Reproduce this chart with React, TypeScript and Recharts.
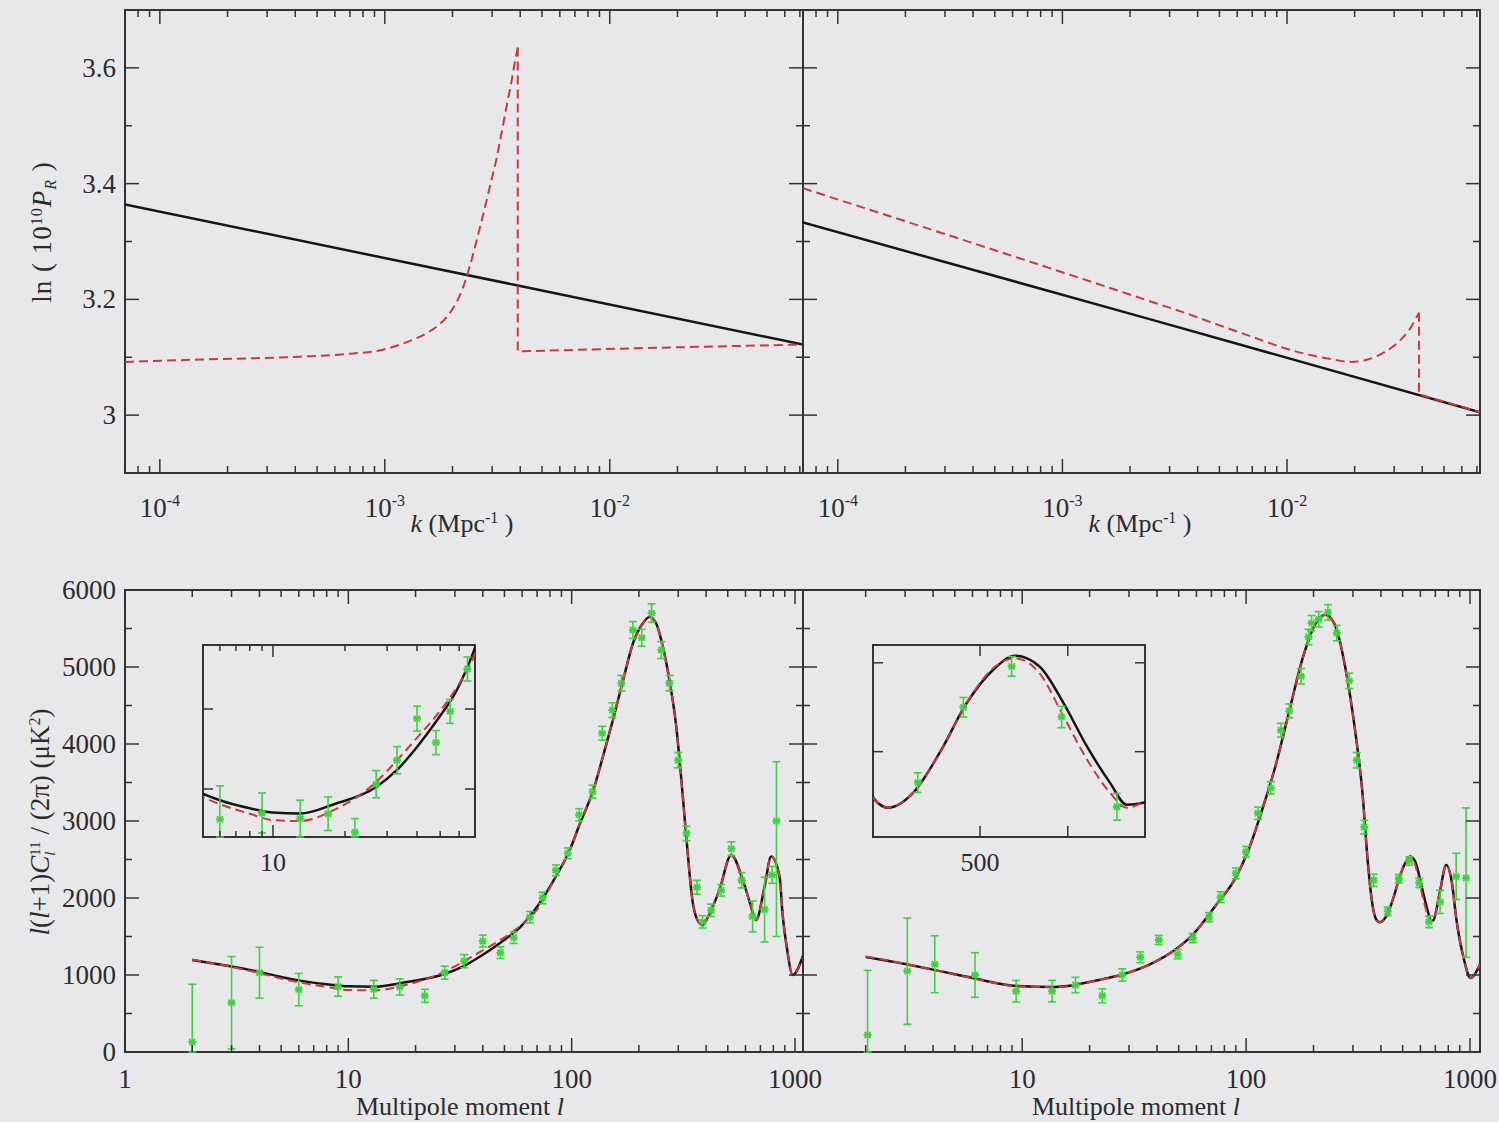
import React from 'react'
import { ComposedChart, Line, Scatter, XAxis, YAxis, ErrorBar } from 'recharts'

const BG = '#e8e8eb'
const INK = '#333333'
const TXT = '#2c2c2c'
const BLACK = '#161616'
const RED = '#c83a3c'
const GREEN = '#3fd23f'
const SERIF = '"Liberation Serif", "DejaVu Serif", serif'

// top row: ln(10^10 P_R) against k
const kDomain: [number, number] = [7e-5, 0.0723]
const lnPDomain: [number, number] = [2.9, 3.7]
const lnPTicks = [3, 3.1, 3.2, 3.3, 3.4, 3.5, 3.6]
const lnPMajors = [3, 3.2, 3.4, 3.6]

const tlBlackK = [7e-5, 3.9e-3, 0.0723]
const tlBlackV = [3.364, 3.224, 3.122]
// red model, left: smooth rise up to the spike, then the step down
const tlRedRiseK = [7e-5, 1.51e-4, 4.19e-4, 6.98e-4, 9.8e-4, 1.17e-3, 1.33e-3, 1.54e-3, 1.7e-3, 1.89e-3, 2.09e-3, 2.22e-3, 2.39e-3, 2.64e-3, 2.93e-3, 3.15e-3, 3.34e-3, 3.52e-3, 3.66e-3, 3.79e-3, 3.9e-3]
const tlRedRiseV = [3.092, 3.096, 3.101, 3.106, 3.113, 3.122, 3.13, 3.142, 3.153, 3.17, 3.196, 3.219, 3.258, 3.322, 3.394, 3.446, 3.497, 3.544, 3.577, 3.611, 3.635]
const tlRedStepK = [3.9e-3, 3.9e-3, 0.0146, 0.0723]
const tlRedStepV = [3.635, 3.11, 3.116, 3.122]

const trBlackK = [7e-5, 2.49e-3, 0.0723]
const trBlackV = [3.333, 3.165, 3.005]
const trRedRiseK = [7e-5, 2.49e-3, 3.49e-3, 4.94e-3, 6.92e-3, 9.7e-3, 0.01371, 0.01616, 0.01922, 0.02285, 0.02692, 0.03107, 0.03548, 0.0387]
const trRedRiseV = [3.392, 3.196, 3.177, 3.156, 3.136, 3.116, 3.101, 3.096, 3.092, 3.096, 3.108, 3.125, 3.151, 3.177]
const trRedStepK = [0.0387, 0.0387, 0.0723]
const trRedStepV = [3.177, 3.036, 3.005]

// bottom row: l(l+1)C_l/2pi against multipole l
const clDomain: [number, number] = [0, 6000]
const clTicks = [0, 500, 1000, 1500, 2000, 2500, 3000, 3500, 4000, 4500, 5000, 5500, 6000]
const clMajors = [0, 1000, 2000, 3000, 4000, 5000, 6000]

const blTheoryL = [2, 3, 4, 5, 6, 8, 10, 13, 18, 27, 33, 40, 48, 59, 69, 85, 98, 109, 125, 138, 153, 170, 188, 208, 223, 239, 256, 274, 294, 309, 326, 349, 374, 387, 401, 459, 518, 584, 625, 670, 731, 782, 853, 879, 920, 977, 1086]
const blBlackV = [1195, 1110, 1040, 975, 930, 880, 853, 847, 905, 1013, 1119, 1263, 1420, 1625, 1860, 2280, 2620, 2970, 3400, 3835, 4310, 4830, 5305, 5565, 5650, 5565, 5265, 4830, 4225, 3575, 2795, 1930, 1670, 1650, 1715, 2105, 2560, 2235, 1960, 1714, 2150, 2540, 2280, 1805, 1350, 1000, 1250]
const blRedV = [1200, 1105, 1025, 955, 905, 845, 805, 800, 869, 1044, 1180, 1320, 1455, 1640, 1825, 2280, 2620, 2970, 3400, 3835, 4310, 4830, 5305, 5565, 5650, 5565, 5265, 4830, 4225, 3575, 2795, 1930, 1670, 1650, 1715, 2105, 2560, 2235, 1960, 1714, 2150, 2540, 2280, 1805, 1350, 1000, 1250]

const blDataL = [2, 3, 4, 6, 9, 13, 17, 22, 27, 33, 40, 48, 55, 65, 74, 85, 96, 108, 124, 137, 152, 167, 188, 206, 228, 252, 274, 300, 327, 364, 386, 421, 467, 519, 577, 646, 731, 790, 826]
const blDataV = [130, 640, 1030, 810, 850, 815, 845, 730, 1030, 1180, 1440, 1290, 1485, 1750, 2000, 2360, 2580, 3080, 3380, 4140, 4440, 4790, 5480, 5380, 5700, 5220, 4790, 3790, 2840, 2140, 1690, 1840, 2100, 2640, 2230, 1760, 1850, 2300, 3000]
const blDataErr: (number | number[])[] = [[130, 750], 600, 330, 210, 125, 115, 105, 85, 85, 85, 78, 75, 75, 75, 75, 70, 70, 80, 85, 90, 95, 100, 110, 110, 120, 110, 100, 100, 95, 90, 80, 80, 75, 90, 100, 200, 420, 110, [1500, 770]]

const brTheoryL = [2, 3, 4, 6, 9.5, 14, 22, 27.5, 37, 49, 58, 73, 90, 103, 118, 135, 155, 178, 204, 226, 250, 277, 307, 330, 350, 365, 380, 395, 424, 454, 485, 515, 540, 568, 595, 622, 648, 667, 686, 734, 783, 830, 870, 940, 1005, 1050, 1108]
const brBlackV = [1234, 1143, 1070, 961, 857, 844, 935, 1000, 1134, 1343, 1528, 1898, 2269, 2639, 3148, 3704, 4399, 5093, 5560, 5680, 5540, 5000, 4167, 3400, 2450, 1950, 1730, 1685, 1770, 1994, 2275, 2461, 2539, 2478, 2275, 2028, 1826, 1702, 1713, 2084, 2430, 2200, 1714, 1200, 960, 1010, 1140]
const brRedV = [1240, 1145, 1068, 958, 855, 842, 933, 1000, 1134, 1343, 1528, 1898, 2269, 2639, 3148, 3704, 4399, 5093, 5560, 5680, 5540, 5000, 4167, 3400, 2450, 1950, 1730, 1685, 1770, 1994, 2275, 2470, 2525, 2440, 2200, 1955, 1770, 1685, 1719, 2084, 2430, 2200, 1714, 1200, 960, 1010, 1140]

const brDataL = [2.04, 3.07, 4.07, 6.16, 9.4, 13.6, 17.3, 22.8, 28, 33.7, 40.7, 49.5, 57.8, 68.3, 77, 90, 100, 113, 129, 143, 156, 176, 190, 196, 211, 232, 254, 289, 312, 337, 371, 429, 481, 536, 593, 656, 735, 867, 960]
const brDataV = [220, 1050, 1140, 1000, 790, 790, 870, 730, 1000, 1230, 1455, 1270, 1480, 1750, 2010, 2320, 2600, 3100, 3430, 4180, 4430, 4880, 5390, 5570, 5620, 5710, 5440, 4820, 3790, 2920, 2230, 1826, 2250, 2480, 2195, 1690, 1950, 2280, 2260]
const brDataErr: (number | number[])[] = [[220, 840], 690, 370, 290, 140, 140, 100, 90, 80, 70, 60, 60, 60, 60, 70, 70, 70, 80, 80, 90, 90, 100, 100, 100, 100, 100, 100, 100, 100, 90, 80, 55, 55, 55, 60, 75, 150, 300, [1030, 910]]

type Pt = { x: number; y: number; e?: number | number[] }
const zip = (xs: number[], ys: number[], es?: (number | number[])[]): Pt[] =>
  xs.map((x, i) => (es ? { x, y: ys[i], e: es[i] } : { x, y: ys[i] }))

// keep the points an inset can show, with bars cut at its frame
const insetPoints = (pts: Pt[], xd: [number, number], yd: [number, number]): Pt[] =>
  pts
    .filter(p => p.x >= xd[0] && p.x <= xd[1] && p.y >= yd[0] && p.y <= yd[1])
    .map(p => {
      const [lo, hi] = Array.isArray(p.e) ? p.e : [p.e ?? 0, p.e ?? 0]
      return { ...p, e: [Math.min(lo, p.y - yd[0]), Math.min(hi, yd[1] - p.y)] }
    })

const logTicks = (lo: number, hi: number) => {
  const out: number[] = []
  for (let d = Math.floor(Math.log10(lo)); d <= Math.ceil(Math.log10(hi)); d++)
    for (let m = 1; m < 10; m++) {
      const v = +(m * Math.pow(10, d)).toPrecision(6)
      if (v >= lo && v <= hi) out.push(v)
    }
  return out
}
const isPow10 = (v: number) => Math.abs(Math.log10(v) - Math.round(Math.log10(v))) < 1e-6
const inList = (list: number[]) => (v: number) => list.some(m => Math.abs(m - v) < 1e-6)

type AxisSpec = {
  domain: [number, number]
  scale: 'log' | 'linear'
  ticks: number[]
  major: (v: number) => boolean
  label?: (v: number) => React.ReactNode
  len: [number, number]
}
type Series = { data: Pt[]; color: string; width: number; dash?: string; curve: 'linear' | 'monotone' }

const Star = (p: any) => {
  const { cx, cy } = p
  if (cx == null || cy == null) return <g />
  const s = 4
  const d = 3
  return (
    <g stroke={GREEN} strokeWidth={2}>
      <line x1={cx - s} y1={cy} x2={cx + s} y2={cy} />
      <line x1={cx - d} y1={cy - d} x2={cx + d} y2={cy + d} />
      <line x1={cx - d} y1={cy + d} x2={cx + d} y2={cy - d} />
    </g>
  )
}

function Panel({ box, x, y, series, points, fill, xLabelDy, fontSize }: {
  box: [number, number, number, number]
  x: AxisSpec
  y: AxisSpec
  series: Series[]
  points?: Pt[]
  fill?: boolean
  xLabelDy: number
  fontSize: number
}) {
  const [x0, y0, x1, y1] = box
  const w = x1 - x0
  const h = y1 - y0
  const L = 110, R = 40, T = 22, B = 60
  const txt: React.CSSProperties = { fontFamily: SERIF, fontSize, fill: TXT }

  const bottomTick = (p: any) => {
    const v = p.payload.value
    const maj = x.major(v)
    const n = maj ? x.len[0] : x.len[1]
    const lab = maj && x.label ? x.label(v) : null
    return (
      <g>
        <line x1={p.x} x2={p.x} y1={p.y} y2={p.y - n} stroke={INK} strokeWidth={1.5} />
        <line x1={p.x} x2={p.x} y1={p.y - h} y2={p.y - h + n} stroke={INK} strokeWidth={1.5} />
        {lab != null && (
          <text x={p.x} y={p.y + xLabelDy} textAnchor="middle" fontFamily={SERIF} style={txt}>{lab}</text>
        )}
      </g>
    )
  }
  const leftTick = (p: any) => {
    const v = p.payload.value
    const maj = y.major(v)
    const n = maj ? y.len[0] : y.len[1]
    const lab = maj && y.label ? y.label(v) : null
    return (
      <g>
        <line x1={p.x} x2={p.x + n} y1={p.y} y2={p.y} stroke={INK} strokeWidth={1.5} />
        <line x1={p.x + w} x2={p.x + w - n} y1={p.y} y2={p.y} stroke={INK} strokeWidth={1.5} />
        {lab != null && (
          <text x={p.x - 9} y={p.y} textAnchor="end" dominantBaseline="central" fontFamily={SERIF} style={txt}>{lab}</text>
        )}
      </g>
    )
  }

  return (
    <div style={{ position: 'absolute', left: x0 - L, top: y0 - T, width: w + L + R, height: h + T + B, fontFamily: SERIF }}>
      <div style={{ position: 'absolute', left: L - 1, top: T - 1, width: w + 2, height: h + 2, boxSizing: 'border-box', border: `2px solid ${INK}`, background: fill ? BG : 'transparent' }} />
      <ComposedChart width={w + L + R} height={h + T + B} margin={{ top: T, right: R, bottom: 0, left: 0 }} style={{ fontFamily: SERIF }}>
        <XAxis dataKey="x" type="number" scale={x.scale} domain={x.domain} allowDataOverflow ticks={x.ticks} interval={0}
          tickSize={0} tickMargin={0} axisLine={false} tickLine={false} height={B} tick={bottomTick} />
        <YAxis dataKey="y" type="number" scale={y.scale} domain={y.domain} allowDataOverflow ticks={y.ticks} interval={0}
          tickSize={0} tickMargin={0} axisLine={false} tickLine={false} width={L} tick={leftTick} />
        {series.map((s, i) => (
          <Line key={i} data={s.data} dataKey="y" type={s.curve} stroke={s.color} strokeWidth={s.width}
            strokeDasharray={s.dash} dot={false} activeDot={false} isAnimationActive={false} />
        ))}
        {points && (
          <Scatter data={points} dataKey="y" shape={Star} isAnimationActive={false}>
            <ErrorBar dataKey="e" direction="y" width={4} stroke={GREEN} strokeWidth={1.6} />
          </Scatter>
        )}
      </ComposedChart>
    </div>
  )
}

const expLabel = (v: number) => (
  <>10<tspan dy={-11} style={{ fontSize: 16 }}>{String(Math.round(Math.log10(v)))}</tspan></>
)

const kAxis = (): AxisSpec => ({ domain: kDomain, scale: 'log', ticks: logTicks(kDomain[0], kDomain[1]), major: isPow10, label: expLabel, len: [14, 7] })
const lnPAxis = (labels: boolean): AxisSpec => ({ domain: lnPDomain, scale: 'linear', ticks: lnPTicks, major: inList(lnPMajors), label: labels ? (v) => String(v) : undefined, len: [14, 7] })
const lAxis = (domain: [number, number]): AxisSpec => ({ domain, scale: 'log', ticks: logTicks(domain[0], domain[1]), major: isPow10, label: (v) => String(v), len: [14, 7] })
const clAxis = (labels: boolean): AxisSpec => ({ domain: clDomain, scale: 'linear', ticks: clTicks, major: inList(clMajors), label: labels ? (v) => String(v) : undefined, len: [14, 7] })

const title: React.CSSProperties = {
  position: 'absolute', transform: 'translate(-50%, -50%)', fontFamily: SERIF, fontSize: 26,
  color: TXT, whiteSpace: 'nowrap', lineHeight: 1,
}
const vtitle: React.CSSProperties = { ...title, fontSize: 27, transform: 'translate(-50%, -50%) rotate(-90deg)' }
const sup: React.CSSProperties = { fontSize: 16, position: 'relative', top: '-0.55em' }
const sub: React.CSSProperties = { fontSize: 16, position: 'relative', top: '0.3em' }

export default function App() {
  const tlBlack = zip(tlBlackK, tlBlackV)
  const tlRedRise = zip(tlRedRiseK, tlRedRiseV)
  const tlRedStep = zip(tlRedStepK, tlRedStepV)
  const trBlack = zip(trBlackK, trBlackV)
  const trRedRise = zip(trRedRiseK, trRedRiseV)
  const trRedStep = zip(trRedStepK, trRedStepV)
  const blBlack = zip(blTheoryL, blBlackV)
  const blRed = zip(blTheoryL, blRedV)
  const blData = zip(blDataL, blDataV, blDataErr)
  const brBlack = zip(brTheoryL, brBlackV)
  const brRed = zip(brTheoryL, brRedV)
  const brData = zip(brDataL, brDataV, brDataErr)

  const solid = (data: Pt[], curve: 'linear' | 'monotone'): Series => ({ data, color: BLACK, width: 2.5, curve })
  const dashed = (data: Pt[], curve: 'linear' | 'monotone'): Series => ({ data, color: RED, width: 2, dash: '9 5', curve })

  const blInsetX: AxisSpec = { domain: [5.1, 69.9], scale: 'log', ticks: logTicks(5.1, 69.9), major: isPow10, label: (v) => (v === 10 ? '10' : null), len: [12, 6] }
  const blInsetY: AxisSpec = { domain: [700, 1900], scale: 'linear', ticks: [1000, 1500], major: () => true, len: [10, 5] }
  const brInsetX: AxisSpec = { domain: [378, 688], scale: 'linear', ticks: [500, 600], major: () => true, label: (v) => (v === 500 ? '500' : null), len: [11, 6] }
  const brInsetY: AxisSpec = { domain: [1520, 2600], scale: 'linear', ticks: [2000, 2500], major: () => true, len: [10, 5] }

  return (
    <div style={{ position: 'absolute', left: 0, top: 0, width: 1499, height: 1122, background: BG, overflow: 'hidden', fontFamily: SERIF }}>
      <Panel box={[125, 10, 803, 473]} x={kAxis()} y={lnPAxis(true)} xLabelDy={44} fontSize={27}
        series={[solid(tlBlack, 'linear'), dashed(tlRedRise, 'monotone'), dashed(tlRedStep, 'linear')]} />
      <Panel box={[803, 10, 1480, 473]} x={kAxis()} y={lnPAxis(false)} xLabelDy={44} fontSize={27}
        series={[solid(trBlack, 'linear'), dashed(trRedRise, 'monotone'), dashed(trRedStep, 'linear')]} />
      <Panel box={[125, 590, 803, 1052]} x={lAxis([1, 1086])} y={clAxis(true)} xLabelDy={36} fontSize={27}
        series={[solid(blBlack, 'monotone'), dashed(blRed, 'monotone')]} points={blData} />
      <Panel box={[803, 590, 1480, 1052]} x={lAxis([1.05, 1108])} y={clAxis(false)} xLabelDy={36} fontSize={27}
        series={[solid(brBlack, 'monotone'), dashed(brRed, 'monotone')]} points={brData} />
      <Panel box={[203, 645, 475, 837]} x={blInsetX} y={blInsetY} xLabelDy={34} fontSize={26} fill
        series={[solid(blBlack, 'monotone'), dashed(blRed, 'monotone')]}
        points={insetPoints(blData, blInsetX.domain, blInsetY.domain)} />
      <Panel box={[873, 645, 1145, 837]} x={brInsetX} y={brInsetY} xLabelDy={34} fontSize={26} fill
        series={[solid(brBlack, 'monotone'), dashed(brRed, 'monotone')]}
        points={insetPoints(brData, brInsetX.domain, brInsetY.domain)} />

      <div style={{ ...title, left: 462, top: 524 }}><i>k</i> (Mpc<span style={sup}>-1</span> )</div>
      <div style={{ ...title, left: 1140, top: 524 }}><i>k</i> (Mpc<span style={sup}>-1</span> )</div>
      <div style={{ ...title, left: 460, top: 1107 }}>Multipole moment <i>l</i></div>
      <div style={{ ...title, left: 1136, top: 1107 }}>Multipole moment <i>l</i></div>
      <div style={{ ...vtitle, left: 42, top: 232, letterSpacing: 1 }}>
        ln ( 10<span style={sup}>10</span><i>P</i><span style={sub}><i>R</i></span> )
      </div>
      <div style={{ ...vtitle, left: 42, top: 822 }}>
        <i>l</i>(<i>l</i>+1)<i>C</i><span style={{ display: 'inline-flex', flexDirection: 'column', fontSize: 15, lineHeight: 1, verticalAlign: 'middle' }}><span>11</span><i>l</i></span> / (2π) (μK<span style={sup}>2</span>)
      </div>
    </div>
  )
}
